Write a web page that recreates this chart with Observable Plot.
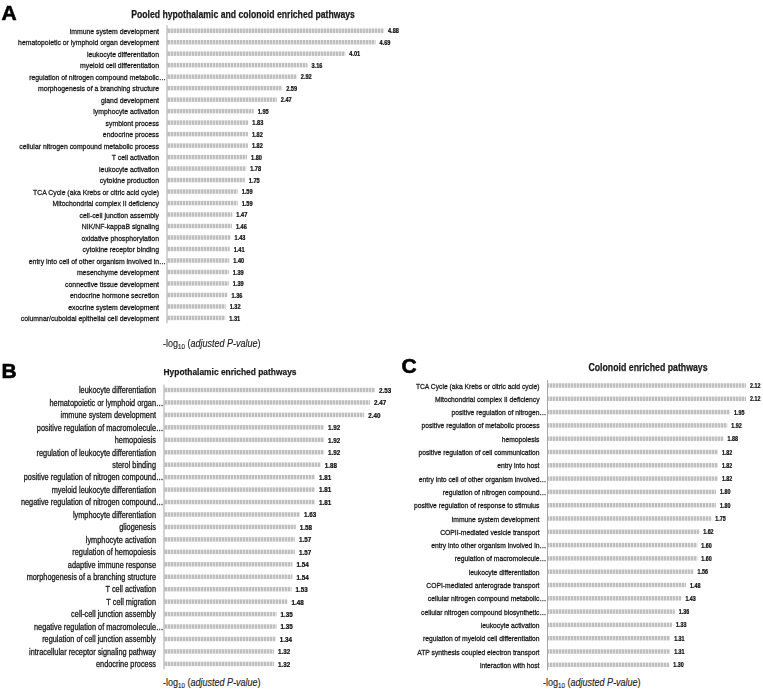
<!DOCTYPE html>
<html><head><meta charset="utf-8">
<script src="https://cdn.jsdelivr.net/npm/d3@7"></script>
<script src="https://cdn.jsdelivr.net/npm/@observablehq/plot@0.6"></script>
<style>
html,body{margin:0;padding:0;background:#fff;}
#root{position:relative;width:763px;height:691px;overflow:hidden;font-family:"Liberation Sans",Arial,sans-serif;color:#111;}
.abs{position:absolute;white-space:nowrap;line-height:1;}
.letter{font-family:"Liberation Sans",Arial,sans-serif;font-weight:bold;font-size:21px;color:#000;-webkit-text-stroke:0.6px #000;}
.title{font-weight:bold;transform:translateX(-50%) scaleX(0.85);color:#1a1a1a;-webkit-text-stroke:0.25px #1a1a1a;}
.xlab{font-size:11px;color:#222;transform:scaleX(0.82);transform-origin:0 0;-webkit-text-stroke:0.15px #222;}
.xlab sub{font-size:7.5px;vertical-align:-2px;line-height:0;}
</style></head><body><div id="root"></div>
<script>
// ---- Panel A: Pooled hypothalamic and colonoid enriched pathways
const titleA = "Pooled hypothalamic and colonoid enriched pathways";
const labelsA = [
  "immune system development",
  "hematopoietic or lymphoid organ development",
  "leukocyte differentiation",
  "myeloid cell differentiation",
  "regulation of nitrogen compound metabolic…",
  "morphogenesis of a branching structure",
  "gland development",
  "lymphocyte activation",
  "symbiont process",
  "endocrine process",
  "cellular nitrogen compound metabolic process",
  "T cell activation",
  "leukocyte activation",
  "cytokine production",
  "TCA Cycle (aka Krebs or citric acid cycle)",
  "Mitochondrial complex II deficiency",
  "cell-cell junction assembly",
  "NIK/NF-kappaB signaling",
  "oxidative phosphorylation",
  "cytokine receptor binding",
  "entry into cell of other organism involved in…",
  "mesenchyme development",
  "connective tissue development",
  "endocrine hormone secretion",
  "exocrine system development",
  "columnar/cuboidal epithelial cell development"
];
const valuesA = [4.88, 4.69, 4.01, 3.16, 2.92, 2.59, 2.47, 1.95, 1.83, 1.82, 1.82, 1.80, 1.78, 1.75, 1.59, 1.59, 1.47, 1.46, 1.43, 1.41, 1.40, 1.39, 1.39, 1.36, 1.32, 1.31];

// ---- Panel B: Hypothalamic enriched pathways
const titleB = "Hypothalamic enriched pathways";
const labelsB = [
  "leukocyte differentiation",
  "hematopoietic or lymphoid organ…",
  "immune system development",
  "positive regulation of macromolecule…",
  "hemopoiesis",
  "regulation of leukocyte differentiation",
  "sterol binding",
  "positive regulation of nitrogen compound…",
  "myeloid leukocyte differentiation",
  "negative regulation of nitrogen compound…",
  "lymphocyte differentiation",
  "gliogenesis",
  "lymphocyte activation",
  "regulation of hemopoiesis",
  "adaptive immune response",
  "morphogenesis of a branching structure",
  "T cell activation",
  "T cell migration",
  "cell-cell junction assembly",
  "negative regulation of macromolecule…",
  "regulation of cell junction assembly",
  "intracellular receptor signaling pathway",
  "endocrine process"
];
const valuesB = [2.53, 2.47, 2.40, 1.92, 1.92, 1.92, 1.88, 1.81, 1.81, 1.81, 1.63, 1.58, 1.57, 1.57, 1.54, 1.54, 1.53, 1.48, 1.35, 1.35, 1.34, 1.32, 1.32];

// ---- Panel C: Colonoid enriched pathways
const titleC = "Colonoid enriched pathways";
const labelsC = [
  "TCA Cycle (aka Krebs or citric acid cycle)",
  "Mitochondrial complex II deficiency",
  "positive regulation of nitrogen…",
  "positive regulation of metabolic process",
  "hemopoiesis",
  "positive regulation of cell communication",
  "entry into host",
  "entry into cell of other organism involved…",
  "regulation of nitrogen compound…",
  "positive regulation of response to stimulus",
  "immune system development",
  "COPII-mediated vesicle transport",
  "entry into other organism involved in…",
  "regulation of macromolecule…",
  "leukocyte differentiation",
  "COPI-mediated anterograde transport",
  "cellular nitrogen compound metabolic…",
  "cellular nitrogen compound biosynthetic…",
  "leukocyte activation",
  "regulation of myeloid cell differentiation",
  "ATP synthesis coupled electron transport",
  "interaction with host"
];
const valuesC = [2.12, 2.12, 1.95, 1.92, 1.88, 1.82, 1.82, 1.82, 1.80, 1.80, 1.75, 1.62, 1.60, 1.60, 1.56, 1.48, 1.43, 1.36, 1.33, 1.31, 1.31, 1.30];

const panelLetters = ["A", "B", "C"];
const xLabelHTML = '-log<sub>10</sub> (<i>adjusted P-value</i>)';

const root = document.getElementById("root");
const FONT = '"Liberation Sans",Arial,sans-serif';
const NARROW = 0.85; // horizontal compression to mimic a condensed face

function addText(cls, html, x, baseline, fs) {
  const d = document.createElement("div");
  d.className = "abs " + cls;
  d.innerHTML = html;
  d.style.left = x + "px";
  d.style.fontSize = fs + "px";
  d.style.top = (baseline - 0.85 * fs) + "px";
  root.appendChild(d);
  return d;
}

function narrowTexts(svg) {
  d3.select(svg).selectAll("text").each(function () {
    const t = this.getAttribute("transform");
    if (t) {
      this.setAttribute("transform", t + ` scale(${NARROW},1)`);
    } else {
      const x = +this.getAttribute("x") || 0, y = +this.getAttribute("y") || 0;
      this.removeAttribute("x"); this.removeAttribute("y");
      this.setAttribute("transform", `translate(${x},${y}) scale(${NARROW},1)`);
    }
  });
}

function panel(o) {
  const n = o.labels.length;
  const data = o.labels.map((label, i) => ({
    i, label, value: o.values[i],
    body: label.replace(/…$/, ""), trunc: /…$/.test(label)
  }));
  const pi = 1 - o.bw / o.step;
  const po = (o.ext - o.bw / 2) / o.step;
  const L = o.step * (n - pi + 2 * po);
  const height = o.marginTop + L + o.marginBottom;
  const labelStyle = {fontSize: o.fs, fill: "#1a1a1a", stroke: "#1a1a1a", strokeWidth: 0.3};
  const svg = Plot.plot({
    width: o.width, height,
    marginTop: o.marginTop, marginBottom: o.marginBottom,
    marginLeft: o.marginLeft, marginRight: o.marginRight,
    x: {domain: [0, d3.max(o.values)], axis: null},
    y: {domain: d3.range(n), paddingInner: pi, paddingOuter: po, round: false, axis: null},
    style: {fontFamily: FONT, fontSize: "8px", background: "transparent", overflow: "visible", color: "#1a1a1a"},
    marks: [
      Plot.barX(data, {x: "value", y: "i", fill: `url(#${o.id})`}),
      Plot.ruleX([0], {stroke: "#a8a8a8", strokeWidth: 1, dx: -0.5}),
      Plot.text(data, {x: () => 0, y: "i", text: "body", textAnchor: "end", dx: -8.5, ...labelStyle}),
      Plot.text(data.filter(d => d.trunc), {x: () => 0, y: "i", text: () => "…", textAnchor: "start", dx: -8.5, ...labelStyle}),
      Plot.text(data, {x: "value", y: "i", text: d => d.value.toFixed(2), textAnchor: "start", dx: 3.5,
        fontSize: o.vfs, fontWeight: "bold", fill: "#111", stroke: "#111", strokeWidth: 0.25})
    ]
  });
  narrowTexts(svg);
  const defs = d3.select(svg).insert("defs", ":first-child");
  const pat = defs.append("pattern").attr("id", o.id).attr("patternUnits", "userSpaceOnUse")
    .attr("width", 3).attr("height", 20);
  pat.append("rect").attr("width", 3).attr("height", 20).attr("fill", "#e2e2e2");
  pat.append("rect").attr("width", 2).attr("height", 20).attr("fill", "#bfbfbf");
  svg.style.position = "absolute";
  svg.style.left = o.left + "px";
  svg.style.top = o.top + "px";
  svg.style.maxWidth = "none";
  svg.style.willChange = "transform"; // grayscale text antialiasing
  root.appendChild(svg);
}

panel({id: "patA", labels: labelsA, values: valuesA, left: 0, top: 20, width: 420,
  marginLeft: 167, marginRight: 36, marginTop: 5.2, marginBottom: 5, step: 11.49, bw: 4.5, ext: 5.5,
  fs: 8.1, vfs: 6.6});
panel({id: "patB", labels: labelsB, values: valuesB, left: 0, top: 380, width: 400,
  marginLeft: 164, marginRight: 25, marginTop: 4.5, marginBottom: 5, step: 12.45, bw: 4.5, ext: 5.5,
  fs: 8.65, vfs: 7.4});
panel({id: "patC", labels: labelsC, values: valuesC, left: 400, top: 375.5, width: 363,
  marginLeft: 147.5, marginRight: 17, marginTop: 4, marginBottom: 5, step: 13.3, bw: 4.5, ext: 5.5,
  fs: 7.95, vfs: 6.3});

// letters
addText("letter", panelLetters[0], 1.5, 20, 21);
addText("letter", panelLetters[1], 1.5, 378, 21);
addText("letter", panelLetters[2], 401.5, 373, 21);
// titles
addText("title", titleA, 243, 18.5, 10.2);
addText("title", titleB, 230, 375, 9.9);
addText("title", titleC, 648, 371.5, 10.3);
// x-axis labels
addText("xlab", xLabelHTML, 163, 347.5, 11);
addText("xlab", xLabelHTML, 163, 686, 11);
addText("xlab", xLabelHTML, 543, 686, 11);
</script></body></html>
